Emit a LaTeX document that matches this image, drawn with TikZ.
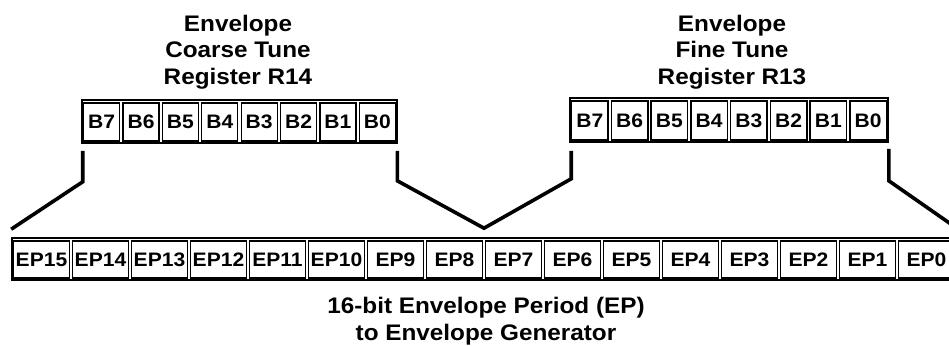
\documentclass[tikz,border=0pt]{standalone}
\usepackage{fontspec}
\usetikzlibrary{calc}
\newfontfamily\diagfont{Liberation Sans Bold}[FakeStretch=1.08]

\tikzset{
  frame/.style={draw, line width=1.6pt, inner sep=0pt, rectangle},
  cell/.style={draw, line width=1.3pt, inner sep=0pt, rectangle,
    font=\diagfont\fontsize{19.5}{22}\selectfont},
  title/.style={align=center, inner sep=0pt,
    font=\diagfont\fontsize{22.5}{26.5}\selectfont},
  link/.style={line width=3.6pt, line join=miter, line cap=butt},
}

\begin{document}
\begin{tikzpicture}[x=1pt,y=-1pt]
  \clip (0,0) rectangle (949,345);
  \fill[white] (0,0) rectangle (949,345);

  % register R14 (coarse tune)
  \node[frame, minimum width=315pt, minimum height=43pt] (r14) at (239.5,121.5) {};
  \foreach \b [count=\i from 0] in {7,6,5,4,3,2,1,0} {
    \node[cell, minimum width=36pt, minimum height=38pt]
      (r14b\b) at ({82+39.375*(\i+0.5)},122) {B\b};
  }
  \node[title] (t14) at (238,52) {Envelope\\Coarse Tune\\Register R14};

  % register R13 (fine tune)
  \node[frame, minimum width=318pt, minimum height=44pt] (r13) at (729,120) {};
  \foreach \b [count=\i from 0] in {7,6,5,4,3,2,1,0} {
    \node[cell, minimum width=36.5pt, minimum height=39pt]
      (r13b\b) at ({570+39.75*(\i+0.5)},120.5) {B\b};
  }
  \node[title] (t13) at (732,52) {Envelope\\Fine Tune\\Register R13};

  % 16-bit envelope period
  \node[frame, minimum width=944pt, minimum height=42pt] (ep) at (484,259) {};
  \foreach \b [count=\i from 0] in {15,14,...,0} {
    \node[cell, minimum width=55.5pt, minimum height=37pt]
      (ep\b) at ({12+59*(\i+0.5)},259.5) {EP\b};
  }
  \node[title] (tep) at (486,321) {16-bit Envelope Period (EP)\\to Envelope Generator};

  % bit mapping connectors
  \draw[link] ($(r14.south west)+(1.5,7)$) -- ($(r14.south west)+(1.5,38)$)
    -- ($(ep.north west)+(0,-8)$);
  \draw[link] ($(r14.south east)+(-0.5,7)$) -- ($(r14.south east)+(-0.5,37)$)
    -- ($(ep.north)+(0,-9)$)
    -- ($(r13.south west)+(2,36)$) -- ($(r13.south west)+(2,8)$);
  \draw[link] ($(r13.south east)+(0,6)$) -- ($(r13.south east)+(0,38)$)
    -- ($(ep.north east)+(0,-9)$);
\end{tikzpicture}
\end{document}
